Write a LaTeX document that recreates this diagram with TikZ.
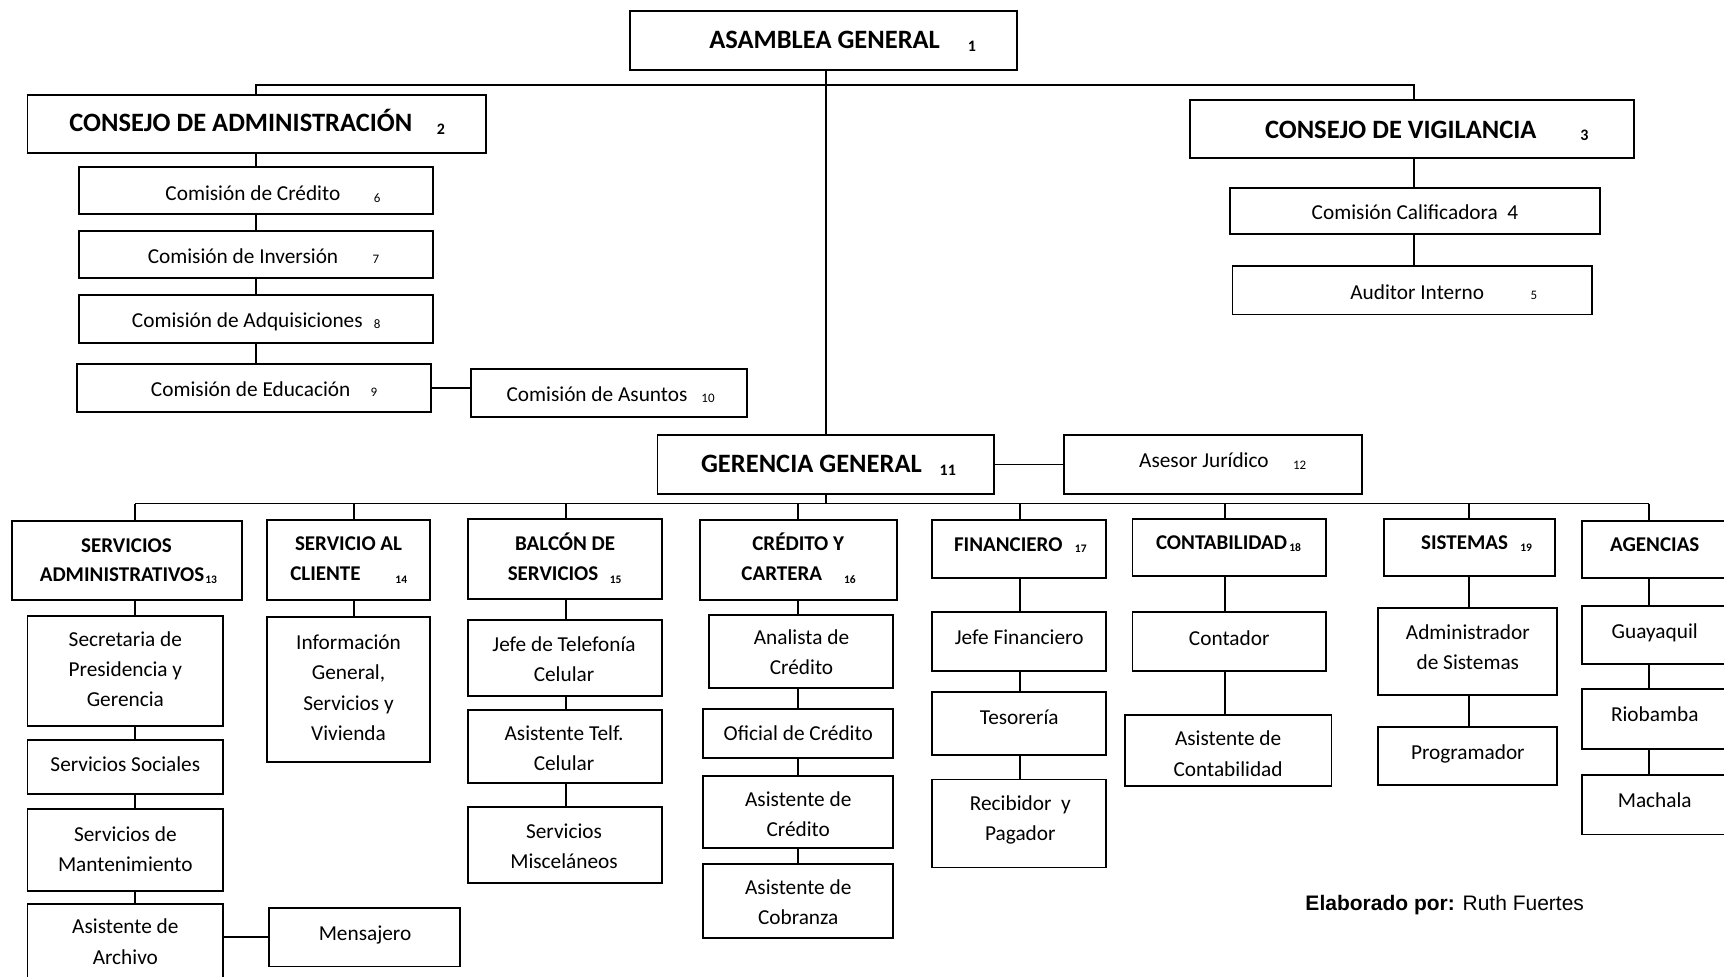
\documentclass[tikz,border=0pt]{standalone}
\usepackage{fontspec}
\setmainfont{Carlito}
\newfontfamily\notefont{Liberation Sans}
\usetikzlibrary{fit}
% box from its two corners
\newcommand\orgbox[5]{\node[box, fit={(#2,#3) (#4,#5)}] (#1) {};}
\begin{document}
\begin{tikzpicture}[x=1.0995pt,y=-1.0995pt,
  box/.style={draw, line width=1.9pt, fill=white, inner sep=0pt},
  wire/.style={line width=1.8pt},
  lbl/.style={font=\fontsize{21.3}{30.2}\selectfont, align=center, inner sep=0pt,
    yshift=-2.2pt, execute at begin node=\strut, execute at end node=\strut},
  ml/.style={yshift=-2.8pt},
  head/.style={font=\fontsize{26.5}{42.5}\selectfont\bfseries, inner sep=0pt,
    yshift=-1.1pt, execute at begin node=\strut},
  dept/.style={font=\fontsize{21}{29.7}\selectfont\bfseries, inner sep=0pt,
    yshift=-1.6pt, execute at begin node=\strut},
  num/.style={font=\fontsize{13}{13}\selectfont, inner sep=0pt},
  bnum/.style={font=\fontsize{16}{16}\selectfont\bfseries, inner sep=0pt},
  dnum/.style={font=\fontsize{11.5}{12}\selectfont\bfseries, inner sep=0pt},
]
\useasboundingbox (0,0) rectangle (1568,888);
\fill[white] (0,0) rectangle (1568,888);
\clip (0,0) rectangle (1568,888);

% ---- upper level ----
\orgbox{asm}{573}{10}{925}{64}
\orgbox{ca}{25}{86}{442}{139}
\orgbox{cv}{1082}{91}{1486}{144}
\orgbox{c6}{72}{152}{394}{195}
\orgbox{c7}{72}{210}{394}{253}
\orgbox{c8}{72}{268}{394}{312}
\orgbox{c9}{70}{331}{392}{375}
\orgbox{c10}{428}{336}{679}{379}
\orgbox{c4}{1119}{171}{1455}{213}
\orgbox{c5}{1121}{242}{1448}{286}
\orgbox{ger}{598}{396}{904}{449}
\orgbox{aj}{968}{396}{1239}{449}

% ---- departments ----
\orgbox{sa}{11}{474}{220}{546}
\orgbox{sc}{243}{473}{391}{546}
\orgbox{bs}{426}{472}{602}{545}
\orgbox{cr}{637}{473}{816}{546}
\orgbox{fi}{848}{473}{1006}{526}
\orgbox{co}{1030}{472}{1206}{524}
\orgbox{si}{1259}{472}{1414}{524}
\orgbox{ag}{1439}{474}{1600}{526}

% ---- units ----
\orgbox{sa1}{25}{560}{203}{660}
\orgbox{sa2}{25}{673}{203}{722}
\orgbox{sa3}{25}{736}{203}{810}
\orgbox{sa4}{25}{822}{203}{900}
\orgbox{msj}{245}{826}{418}{879}
\orgbox{sc1}{243}{561}{391}{693}
\orgbox{bs1}{426}{564}{602}{633}
\orgbox{bs2}{426}{646}{602}{712}
\orgbox{bs3}{426}{734}{602}{803}
\orgbox{cr1}{645}{559}{812}{626}
\orgbox{cr2}{639}{645}{812}{689}
\orgbox{cr3}{639}{706}{812}{771}
\orgbox{cr4}{639}{786}{812}{853}
\orgbox{fi1}{848}{557}{1006}{610}
\orgbox{fi2}{848}{629}{1006}{687}
\orgbox{fi3}{848}{709}{1006}{789}
\orgbox{co1}{1030}{557}{1206}{610}
\orgbox{co2}{1023}{650}{1211}{715}
\orgbox{si1}{1253}{553}{1416}{632}
\orgbox{si2}{1253}{661}{1416}{714}
\orgbox{ag1}{1439}{551}{1600}{604}
\orgbox{ag2}{1439}{627}{1600}{681}
\orgbox{ag3}{1439}{705}{1600}{759}

% ---- connectors ----
\coordinate (top) at (751,77);
\coordinate (xca) at (233,77);
\coordinate (xcv) at (1286,77);
\coordinate (bar) at (751,458);
\coordinate (d1) at (123,458);
\coordinate (d2) at (322,458);
\coordinate (d3) at (515,458);
\coordinate (d4) at (726,458);
\coordinate (d5) at (928,458);
\coordinate (d6) at (1114,458);
\coordinate (d7) at (1336,458);
\coordinate (d8) at (1500,458);

\draw[wire] (asm.south -| top) -- (ger.north -| top);
\draw[wire] (ca.north -| xca) -- (xca) -- (xcv) -- (cv.north -| xcv);
\draw[wire] (ca.south -| xca) -- (c6.north -| xca);
\draw[wire] (c6.south -| xca) -- (c7.north -| xca);
\draw[wire] (c7.south -| xca) -- (c8.north -| xca);
\draw[wire] (c8.south -| xca) -- (c9.north -| xca);
\draw[wire] (c9.east) -- (c9.east -| c10.west);
\draw[wire] (cv.south -| xcv) -- (c4.north -| xcv);
\draw[wire] (c4.south -| xcv) -- (c5.north -| xcv);
\draw[wire] (ger.east) -- (ger.east -| aj.west);

\draw[wire] (ger.south -| bar) -- (bar);
\draw[wire] (d1) -- (d8);
\foreach \d/\n in {d1/sa,d2/sc,d3/bs,d4/cr,d5/fi,d6/co,d7/si,d8/ag}
  \draw[wire] (\d) -- (\n.north -| \d);

\draw[wire] (sa.south -| d1) -- (sa1.north -| d1);
\draw[wire] (sa1.south -| d1) -- (sa2.north -| d1);
\draw[wire] (sa2.south -| d1) -- (sa3.north -| d1);
\draw[wire] (sa3.south -| d1) -- (sa4.north -| d1);
\draw[wire] (msj.west) -- (msj.west -| sa4.east);
\draw[wire] (sc.south -| d2) -- (sc1.north -| d2);
\draw[wire] (bs.south -| d3) -- (bs1.north -| d3);
\draw[wire] (bs1.south -| d3) -- (bs2.north -| d3);
\draw[wire] (bs2.south -| d3) -- (bs3.north -| d3);
\draw[wire] (cr.south -| d4) -- (cr1.north -| d4);
\draw[wire] (cr1.south -| d4) -- (cr2.north -| d4);
\draw[wire] (cr2.south -| d4) -- (cr3.north -| d4);
\draw[wire] (cr3.south -| d4) -- (cr4.north -| d4);
\draw[wire] (fi.south -| d5) -- (fi1.north -| d5);
\draw[wire] (fi1.south -| d5) -- (fi2.north -| d5);
\draw[wire] (fi2.south -| d5) -- (fi3.north -| d5);
\draw[wire] (co.south -| d6) -- (co1.north -| d6);
\draw[wire] (co1.south -| d6) -- (co2.north -| d6);
\draw[wire] (si.south -| d7) -- (si1.north -| d7);
\draw[wire] (si1.south -| d7) -- (si2.north -| d7);
\draw[wire] (ag.south -| d8) -- (ag1.north -| d8);
\draw[wire] (ag1.south -| d8) -- (ag2.north -| d8);
\draw[wire] (ag2.south -| d8) -- (ag3.north -| d8);

% ---- texts: upper level ----
\node[head] (tasm) at (750,35) {ASAMBLEA GENERAL};
\node[bnum] (nasm) at (884,42) {1};
\node[head] (tca) at (219,111) {CONSEJO DE ADMINISTRACIÓN};
\node[bnum] (nca) at (401,118) {2};
\node[head] (tcv) at (1274,117) {CONSEJO DE VIGILANCIA};
\node[bnum] (ncv) at (1441,123) {3};
\node[lbl] (tc6) at (230,175) {Comisión de Crédito};
\node[num] (nc6) at (343,180) {6};
\node[lbl] (tc7) at (221,232) {Comisión de Inversión};
\node[num] (nc7) at (342,236) {7};
\node[lbl] (tc8) at (225,290) {Comisión de Adquisiciones};
\node[num] (nc8) at (343,295) {8};
\node[lbl] (tc9) at (228,353) {Comisión de Educación};
\node[num] (nc9) at (340,357) {9};
\node[lbl] (tc10) at (543,358) {Comisión de Asuntos};
\node[num] (nc10) at (644,362) {10};
\node[lbl] (tc4) at (1287,192) {Comisión Calificadora\ \ 4};
\node[lbl] (tc5) at (1289,265) {Auditor Interno};
\node[num] (nc5) at (1395,269) {5};
\node[head] (tger) at (738,421) {GERENCIA GENERAL};
\node[bnum] (nger) at (862,428) {11};
\node[lbl] (taj) at (1095,418) {Asesor Jurídico};
\node[num] (naj) at (1182,423) {12};

% ---- texts: departments ----
\node[dept] (tsa1) at (115,496) {SERVICIOS};
\node[dept] (tsa2) at (111,522) {ADMINISTRATIVOS};
\node[dnum] (nsa) at (192,527) {13};
\node[dept] (tsc1) at (317,494) {SERVICIO AL};
\node[dept] (tsc2) at (296,521) {CLIENTE};
\node[dnum] (nsc) at (365,527) {14};
\node[dept] (tbs1) at (514,494) {BALCÓN DE};
\node[dept] (tbs2) at (503,521) {SERVICIOS};
\node[dnum] (nbs) at (560,527) {15};
\node[dept] (tcr1) at (726,494) {CRÉDITO Y};
\node[dept] (tcr2) at (711,521) {CARTERA};
\node[dnum] (ncr) at (773,527) {16};
\node[dept] (tfi) at (917,495) {FINANCIERO};
\node[dnum] (nfi) at (983,499) {17};
\node[dept] (tco) at (1111,493) {CONTABILIDAD};
\node[dnum] (nco) at (1178,498) {18};
\node[dept] (tsi) at (1332,493) {SISTEMAS};
\node[dnum] (nsi) at (1388,498) {19};
\node[dept] (tag) at (1505,495) {AGENCIAS};

% ---- texts: units ----
\node[lbl,ml] (tsa1b) at (114,608) {Secretaria de\\Presidencia y\\Gerencia};
\node[lbl] (tsa2b) at (114,694) {Servicios Sociales};
\node[lbl,ml] (tsa3b) at (114,772) {Servicios de\\Mantenimiento};
\node[lbl,ml] (tsa4b) at (114,856) {Asistente de\\Archivo};
\node[lbl] (tmsj) at (332,848) {Mensajero};
\node[lbl,ml] (tsc1b) at (317,625) {Información\\General,\\Servicios y\\Vivienda};
\node[lbl,ml] (tbs1b) at (513,599) {Jefe de Telefonía\\Celular};
\node[lbl,ml] (tbs2b) at (513,680) {Asistente Telf.\\Celular};
\node[lbl,ml] (tbs3b) at (513,769) {Servicios\\Misceláneos};
\node[lbl,ml] (tcr1b) at (729,593) {Analista de\\Crédito};
\node[lbl] (tcr2b) at (726,666) {Oficial de Crédito};
\node[lbl,ml] (tcr3b) at (726,740) {Asistente de\\Crédito};
\node[lbl,ml] (tcr4b) at (726,820) {Asistente de\\Cobranza};
\node[lbl] (tfi1b) at (927,579) {Jefe Financiero};
\node[lbl] (tfi2b) at (927,651) {Tesorería};
\node[lbl,ml] (tfi3b) at (928,744) {Recibidor\ \ y\\Pagador};
\node[lbl] (tco1b) at (1118,580) {Contador};
\node[lbl,ml] (tco2b) at (1117,685) {Asistente de\\Contabilidad};
\node[lbl,ml] (tsi1b) at (1335,588) {Administrador\\de Sistemas};
\node[lbl] (tsi2b) at (1335,683) {Programador};
\node[lbl] (tag1b) at (1505,573) {Guayaquil};
\node[lbl] (tag2b) at (1505,649) {Riobamba};
\node[lbl] (tag3b) at (1505,727) {Machala};

\node[font=\notefont\fontsize{21}{24}\selectfont, inner sep=0pt] (auth) at (1314,823)
  {\textbf{Elaborado por:} Ruth Fuertes};
\end{tikzpicture}
\end{document}
